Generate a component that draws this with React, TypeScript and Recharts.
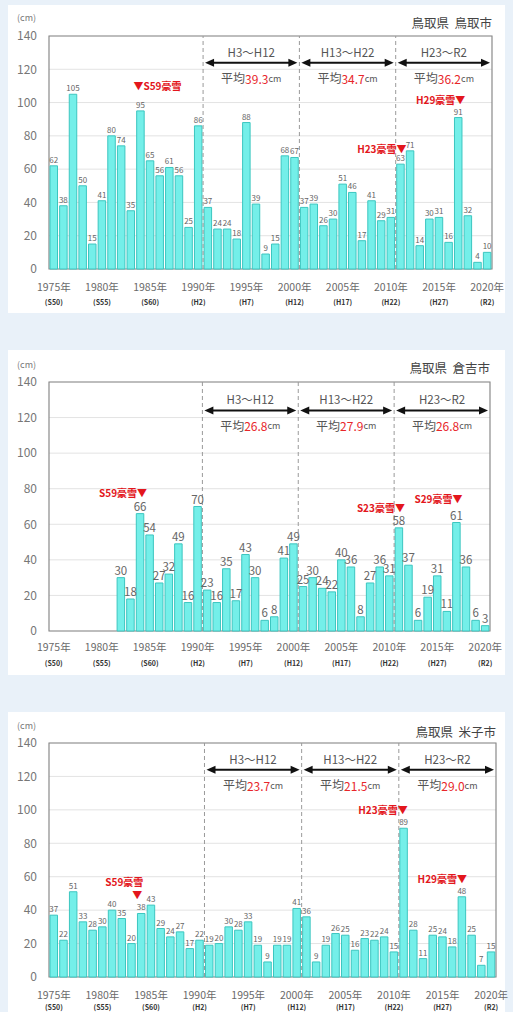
import React from 'react';
import {
  BarChart,
  Bar,
  XAxis,
  YAxis,
  CartesianGrid,
  ReferenceLine,
  ReferenceArea,
  ReferenceDot,
  LabelList,
} from 'recharts';

const FONT = '"Noto Sans CJK JP", "Noto Sans", sans-serif';

// snow depth (cm), 1975-2020
const years = [
  1975, 1976, 1977, 1978, 1979, 1980, 1981, 1982, 1983, 1984,
  1985, 1986, 1987, 1988, 1989, 1990, 1991, 1992, 1993, 1994,
  1995, 1996, 1997, 1998, 1999, 2000, 2001, 2002, 2003, 2004,
  2005, 2006, 2007, 2008, 2009, 2010, 2011, 2012, 2013, 2014,
  2015, 2016, 2017, 2018, 2019, 2020,
];

const tottori = [
  62, 38, 105, 50, 15, 41, 80, 74, 35, 95,
  65, 56, 61, 56, 25, 86, 37, 24, 24, 18,
  88, 39, 9, 15, 68, 67, 37, 39, 26, 30,
  51, 46, 17, 41, 29, 31, 63, 71, 14, 30,
  31, 16, 91, 32, 4, 10,
];

const kurayoshi = [
  null, null, null, null, null, null, null, 30, 18, 66,
  54, 27, 32, 49, 16, 70, 23, 16, 35, 17,
  43, 30, 6, 8, 41, 49, 25, 30, 24, 22,
  40, 36, 8, 27, 36, 31, 58, 37, 6, 19,
  31, 11, 61, 36, 6, 3,
];

const yonago = [
  37, 22, 51, 33, 28, 30, 40, 35, 20, 38,
  43, 29, 24, 27, 17, 22, 19, 20, 30, 28,
  33, 19, 9, 19, 19, 41, 36, 9, 19, 26,
  25, 16, 23, 22, 24, 15, 89, 28, 11, 25,
  24, 18, 48, 25, 7, 15,
];

const tickYears = [1975, 1980, 1985, 1990, 1995, 2000, 2005, 2010, 2015, 2020];
const eraLabels = ['(S50)', '(S55)', '(S60)', '(H2)', '(H7)', '(H12)', '(H17)', '(H22)', '(H27)', '(R2)'];
const yTicks = [0, 20, 40, 60, 80, 100, 120, 140];

const periodNames = ['H3～H12', 'H13～H22', 'H23～R2'];
const periodEdges = [1990.5, 2000.5, 2010.5, 2020.5];
const tottoriAvg = ['39.3', '34.7', '36.2'];
const kurayoshiAvg = ['26.8', '27.9', '26.8'];
const yonagoAvg = ['23.7', '21.5', '29.0'];

type Note = { year: number; y: number; text: string; anchor: 'start' | 'middle' | 'end'; dx: number };

const tottoriNotes: Note[] = [
  { year: 1984, y: 110, text: '▼S59豪雪', anchor: 'start', dx: -7 },
  { year: 2011, y: 72.5, text: 'H23豪雪▼', anchor: 'end', dx: 6 },
  { year: 2017, y: 102, text: 'H29豪雪▼', anchor: 'end', dx: 7 },
];
const kurayoshiNotes: Note[] = [
  { year: 1984, y: 78, text: 'S59豪雪▼', anchor: 'end', dx: 7 },
  { year: 2011, y: 69.5, text: 'S23豪雪▼', anchor: 'end', dx: 6 },
  { year: 2017, y: 74.5, text: 'S29豪雪▼', anchor: 'end', dx: 6 },
];
const yonagoNotes: Note[] = [
  { year: 1984, y: 57, text: 'S59豪雪', anchor: 'middle', dx: -17 },
  { year: 1984, y: 49.5, text: '▼', anchor: 'middle', dx: -4 },
  { year: 2011, y: 100, text: 'H23豪雪▼', anchor: 'end', dx: 4 },
  { year: 2017, y: 59, text: 'H29豪雪▼', anchor: 'end', dx: 5 },
];

type PanelProps = {
  top: number;
  height: number;
  margin: { top: number; right: number; left: number; bottom: number };
  axisHeight: number;
  values: (number | null)[];
  averages: string[];
  notes: Note[];
  title: string;
  titleY: number;
  unitY: number;
  labelSize: number;
  tickDy: [number, number];
};

const Panel = (p: PanelProps) => {
  const data = years
    .map((year, i) => ({ year, value: p.values[i] }))
    .filter((d) => d.value !== null);
  const plotRight = 513 - p.margin.right;

  const renderTick = (props: any) => {
    const { x, y, payload } = props;
    const idx = tickYears.indexOf(payload.value);
    return (
      <g transform={`translate(${x},${y})`}>
        <text textAnchor="middle" y={p.tickDy[0]} fontSize={10.5} fill="#6a6a6a" fontFamily={FONT}>
          {payload.value}年
        </text>
        <text textAnchor="middle" y={p.tickDy[1]} fontSize={7} fontWeight="bold" fill="#333" fontFamily={FONT}>
          {eraLabels[idx]}
        </text>
      </g>
    );
  };

  const arrowShape = (i: number) => (props: any) => {
    const { x1, y1, x2 } = props;
    const a = x1 + 2;
    const b = x2 - 2;
    const mid = (a + b) / 2;
    return (
      <g>
        <line x1={a + 6} y1={y1} x2={b - 6} y2={y1} stroke="#111" strokeWidth={2} />
        <polygon points={`${a},${y1} ${a + 9},${y1 - 4} ${a + 9},${y1 + 4}`} fill="#111" />
        <polygon points={`${b},${y1} ${b - 9},${y1 - 4} ${b - 9},${y1 + 4}`} fill="#111" />
        <text x={mid} y={y1 - 11} textAnchor="middle" dominantBaseline="central" fontSize={11.5} fill="#555" fontFamily={FONT}>
          {periodNames[i]}
        </text>
        <text x={mid} y={y1 + 15} textAnchor="middle" dominantBaseline="central" fontSize={12} fill="#555" fontFamily={FONT}>
          平均<tspan fill="#e8262a">{p.averages[i]}</tspan>
          <tspan fontSize={9}>cm</tspan>
        </text>
      </g>
    );
  };

  return (
    <div style={{ position: 'absolute', left: 0, top: p.top, width: 513, height: p.height }}>
      <div
        style={{
          position: 'absolute',
          left: 17,
          top: p.unitY - p.top - 7,
          fontSize: 9,
          color: '#777',
          fontFamily: FONT,
          lineHeight: '14px',
        }}
      >
        (cm)
      </div>
      <div
        style={{
          position: 'absolute',
          right: 513 - plotRight,
          top: p.titleY - p.top - 9,
          fontSize: 12.5,
          color: '#444',
          fontFamily: FONT,
          lineHeight: '18px',
          whiteSpace: 'pre',
        }}
      >
        {p.title}
      </div>
      <BarChart width={513} height={p.height} data={data} margin={p.margin}>
        <CartesianGrid vertical={false} stroke="#e3e3e3" />
        <XAxis
          dataKey="year"
          type="number"
          domain={[1974.5, 2020.5]}
          ticks={tickYears}
          interval={0}
          tick={renderTick}
          tickLine={false}
          axisLine={false}
          height={p.axisHeight}
        />
        <YAxis
          domain={[0, 140]}
          ticks={yTicks}
          width={49}
          tickLine={false}
          axisLine={false}
          tickMargin={6}
          tick={{ fontSize: 12, fill: '#777', fontFamily: FONT }}
        />
        <ReferenceArea x1={1974.5} x2={2020.5} y1={0} y2={140} fill="none" fillOpacity={0} stroke="#8a8a8a" strokeWidth={1.2} />
        {periodEdges.slice(0, 3).map((x) => (
          <ReferenceLine key={x} x={x} stroke="#9a9a9a" strokeDasharray="4 3" />
        ))}
        <Bar dataKey="value" barSize={7.5} fill="#74efe9" stroke="#3cc6c0" strokeWidth={1} isAnimationActive={false}>
          <LabelList dataKey="value" position="top" offset={3} fontSize={p.labelSize} fill="#666" fontFamily={FONT} />
        </Bar>
        {periodNames.map((name, i) => (
          <ReferenceLine
            key={name}
            segment={[
              { x: periodEdges[i], y: 124 },
              { x: periodEdges[i + 1], y: 124 },
            ]}
            shape={arrowShape(i)}
          />
        ))}
        {p.notes.map((n, i) => (
          <ReferenceDot
            key={i}
            x={n.year}
            y={n.y}
            r={1}
            shape={(props: any) => (
              <text
                x={props.cx + n.dx}
                y={props.cy}
                textAnchor={n.anchor}
                dominantBaseline="central"
                fontSize={10}
                fontWeight="bold"
                fill="#e3161c"
                fontFamily={FONT}
              >
                {n.text}
              </text>
            )}
          />
        ))}
      </BarChart>
    </div>
  );
}

export default function App() {
  return (
    <div style={{ position: 'absolute', left: 0, top: 0, width: 513, height: 1012, background: '#e9f1f9', overflow: 'hidden' }}>
      <div style={{ position: 'absolute', left: 8, top: 5, width: 497, height: 308, background: '#fff' }} />
      <div style={{ position: 'absolute', left: 8, top: 350, width: 497, height: 325, background: '#fff' }} />
      <div style={{ position: 'absolute', left: 8, top: 712, width: 497, height: 300, background: '#fff' }} />
      <Panel
        top={0}
        height={310}
        margin={{ top: 36, right: 21, left: 0, bottom: 5 }}
        axisHeight={36}
        values={tottori}
        averages={tottoriAvg}
        notes={tottoriNotes}
        title="鳥取県  鳥取市"
        titleY={23}
        unitY={18}
        labelSize={8}
        tickDy={[14, 27.5]}
      />
      <Panel
        top={345}
        height={330}
        margin={{ top: 37, right: 23, left: 0, bottom: 6 }}
        axisHeight={38}
        values={kurayoshi}
        averages={kurayoshiAvg}
        notes={kurayoshiNotes}
        title="鳥取県  倉吉市"
        titleY={368}
        unitY={365}
        labelSize={11.5}
        tickDy={[11.5, 27]}
      />
      <Panel
        top={705}
        height={307}
        margin={{ top: 38, right: 17, left: 0, bottom: 0 }}
        axisHeight={35}
        values={yonago}
        averages={yonagoAvg}
        notes={yonagoNotes}
        title="鳥取県  米子市"
        titleY={732}
        unitY={726}
        labelSize={8}
        tickDy={[14, 25]}
      />
    </div>
  );
}
